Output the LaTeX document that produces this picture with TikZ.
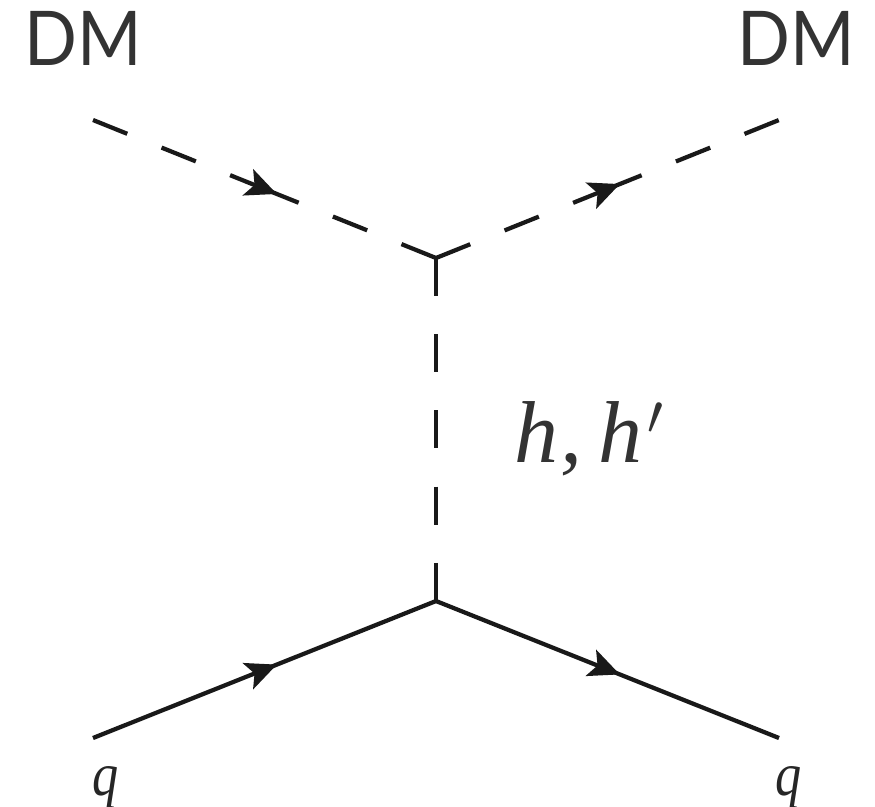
\documentclass[tikz,border=0pt]{standalone}
\usepackage{fontspec}
\setmainfont{Liberation Serif}
\newfontfamily\labelfont{Lato}
\usetikzlibrary{arrows.meta,positioning,decorations.markings}
\tikzset{
fermion/.style={line width=.085cm,draw=black!90,postaction={decorate},decoration={markings,mark=at position .536 with {\arrow{Stealth[length=.62cm,width=.56cm,inset=.14cm]}}}},
scalar/.style={fermion,dash pattern=on .739cm off .739cm on .739cm off .739cm on 1.478cm off .739cm on .739cm off .739cm on .739cm},
mediator/.style={line width=.085cm,draw=black!90,dash pattern=on .762cm off .762cm},
dmlabel/.style={font=\labelfont\fontsize{43}{43}\selectfont,text=black!80,inner sep=0pt,anchor=base},
qlabel/.style={font=\itshape\fontsize{35}{35}\selectfont,text=black!85,inner sep=0pt,anchor=base},
medlabel/.style={font=\itshape\fontsize{50}{50}\selectfont,text=black!80,inner sep=0pt,anchor=base west}
}
\begin{document}
\begin{tikzpicture}[x=.02cm,y=-.02cm]
\useasboundingbox (0,0) rectangle (875,806);
\coordinate (tl) at (93,120);
\coordinate (tr) at (779,120);
\coordinate (vt) at (436,258);
\coordinate (vb) at (436,601);
\coordinate (bl) at (93,738);
\coordinate (br) at (779,738);
\node[dmlabel](dml) at (83,65){\scalebox{.92}[1]{DM}};
\node[dmlabel](dmr) at (796,65){\scalebox{.92}[1]{DM}};
\node[medlabel](med) at (514,462){h\kern.02em,\,\kern.02em h\kern.06em\raisebox{.08em}{\scalebox{1.3}{$^{\textstyle\prime}$}}};
\node[qlabel](ql) at (106,795){\scalebox{.85}[1]{q}};
\node[qlabel](qr) at (789,795){\scalebox{.85}[1]{q}};
\draw[scalar](tl)--(vt);
\draw[scalar](vt)--(tr);
\draw[mediator](vt)--(vb);
\draw[fermion](bl)--(vb);
\draw[fermion](vb)--(br);
\end{tikzpicture}
\end{document}
